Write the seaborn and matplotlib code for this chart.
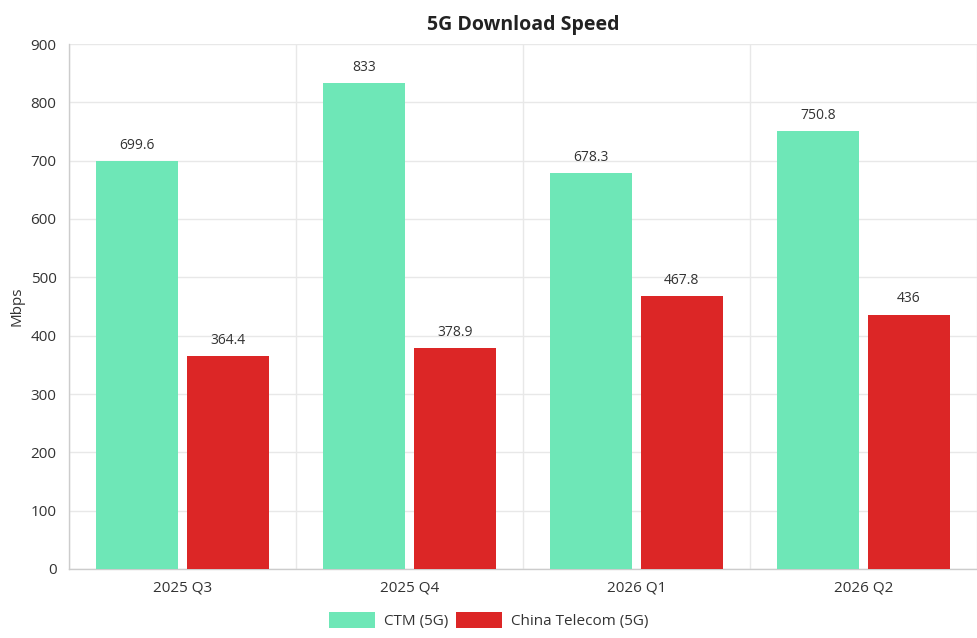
import matplotlib.pyplot as plt
import seaborn as sns
import pandas as pd

quarters = ['2025 Q3', '2025 Q4', '2026 Q1', '2026 Q2']
ctm = [699.6, 833, 678.3, 750.8]
telecom = [364.4, 378.9, 467.8, 436]
series = ['CTM (5G)', 'China Telecom (5G)']
colors = ['#6ee7b7', '#dc2626']

df = pd.DataFrame({
    'quarter': quarters * 2,
    'speed': ctm + telecom,
    'series': [series[0]] * 4 + [series[1]] * 4,
})

sns.set_style('white')
plt.rcParams['font.family'] = ['Open Sans', 'DejaVu Sans']

fig = plt.figure(figsize=(9.77, 6.38), dpi=100)
ax = fig.add_axes([69 / 977, 69 / 638, 908 / 977, 525 / 638])

sns.barplot(data=df, x='quarter', y='speed', hue='series', palette=colors,
            width=0.8, gap=0.1, ax=ax, saturation=1, zorder=3, linewidth=0)

# labels above bars
for cont in ax.containers:
    labels = [('%g' % v) for v in cont.datavalues]
    ax.bar_label(cont, labels=labels, padding=6, fontsize=10, color='#333333')

ax.set_ylim(0, 900)
ax.set_xlim(-0.5, 3.5)
ax.set_yticks(range(0, 901, 100))
ax.set_xticks(range(4))
ax.set_xticks([-0.5, 0.5, 1.5, 2.5, 3.5], minor=True)
ax.set_xticklabels(quarters)
ax.tick_params(axis='x', which='major', length=0, pad=8, labelsize=11, labelcolor='#333333')
ax.tick_params(axis='x', which='minor', length=8, color='#dddddd', width=1)
ax.tick_params(axis='y', length=7, color='#dddddd', labelsize=11, labelcolor='#333333', pad=2)

ax.grid(axis='y', color='#e8e8e8', linewidth=1, zorder=0)
ax.grid(axis='x', which='minor', color='#e8e8e8', linewidth=1, zorder=0)
ax.set_axisbelow(True)

for s in ['top', 'right']:
    ax.spines[s].set_visible(False)
for s in ['left', 'bottom']:
    ax.spines[s].set_color('#cccccc')
    ax.spines[s].set_linewidth(1)

ax.set_xlabel('')
ax.set_ylabel('Mbps', fontsize=11, color='#333333', labelpad=4)
ax.set_title('5G Download Speed', fontsize=14, fontweight='bold', color='#222222', pad=10)

ax.legend(loc='upper center', bbox_to_anchor=(0.5 - 69 / 908 / 2, -0.055), ncol=2,
          frameon=False, fontsize=11, handlelength=3.0, handleheight=1.3,
          columnspacing=0.5, handletextpad=0.6, labelcolor='#333333')

fig.savefig('out.png', dpi=100)
